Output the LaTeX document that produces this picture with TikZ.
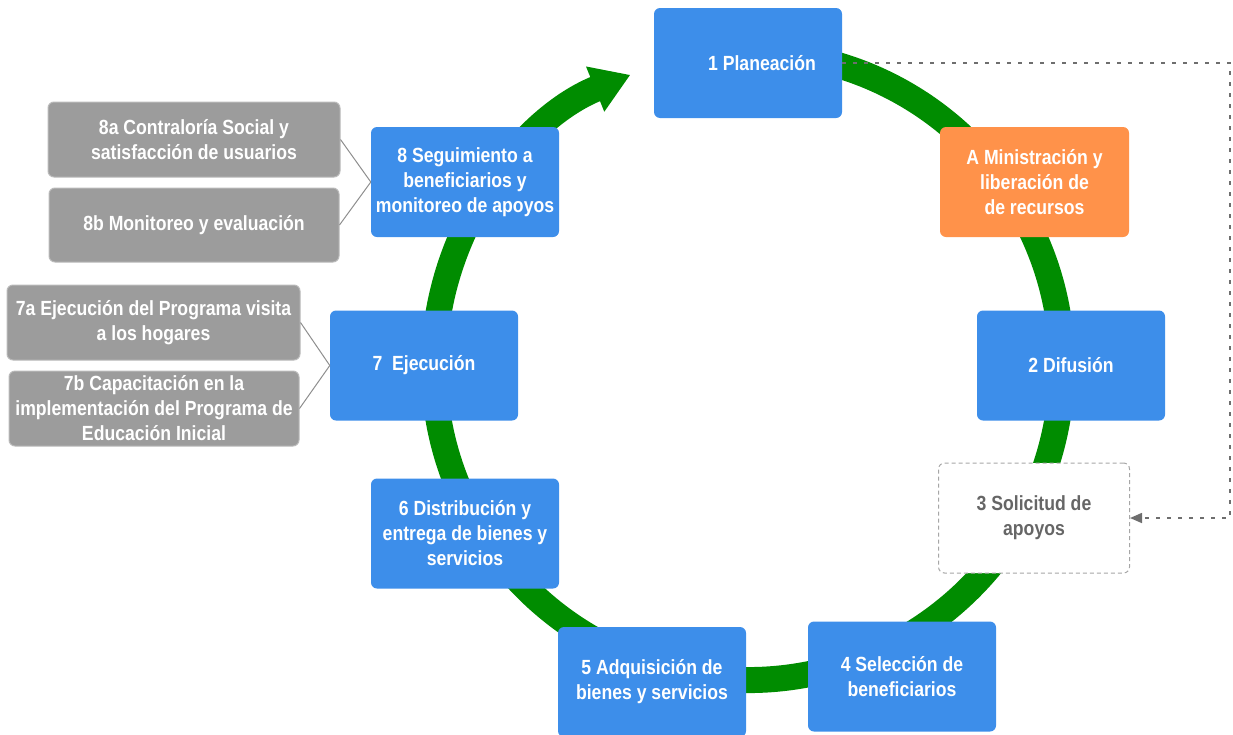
\documentclass[tikz,border=0pt]{standalone}
\usepackage{fontspec}
\setmainfont{Liberation Sans}[FakeStretch=0.86]
\usetikzlibrary{arrows.meta}
\definecolor{bluebox}{HTML}{3D8EEA}
\definecolor{orangebox}{HTML}{FF924A}
\definecolor{greenring}{HTML}{008C00}
\definecolor{graybox}{HTML}{9C9C9C}
\definecolor{grayline}{HTML}{8E8E8E}
\definecolor{dashgray}{HTML}{6E6E6E}
\definecolor{solgray}{HTML}{666666}
\tikzset{
  basebox/.style={rectangle, rounded corners=6pt, align=center, inner sep=2pt,
    font=\fontsize{20.5}{25}\selectfont\bfseries, text=white},
  bluestep/.style={basebox, fill=bluebox, minimum width=188pt, minimum height=110pt},
  orangestep/.style={basebox, fill=orangebox, minimum width=189pt, minimum height=110pt},
  dashstep/.style={basebox, fill=white, draw=graybox!90, dashed, dash pattern=on 4pt off 3pt,
    line width=1pt, text=solgray, minimum width=191pt, minimum height=110pt},
  subbox/.style={basebox, fill=graybox, draw=graybox!70, line width=1pt, minimum height=75pt},
  sublink/.style={draw=grayline, line width=1pt},
  ring/.style={draw=greenring, line width=26pt},
  dashlink/.style={draw=dashgray, line width=1.6pt, dash pattern=on 4pt off 7pt},
}
\begin{document}
\begin{tikzpicture}[x=1pt,y=1pt]
\useasboundingbox (0,0) rectangle (1233,-734);
% green cycle
\coordinate (ctr) at (748,-366);
\draw[ring, -{Triangle[width=46pt,length=38pt]}] (ctr) ++(80:314) arc[start angle=80, end angle=-248, radius=314];
% main steps
\node[bluestep] (n1) at (748,-63) {\hspace*{28pt}1 Planeación};
\node[orangestep] (nA) at (1034.5,-182) {A Ministración y\\liberación de\\de recursos};
\node[bluestep] (n2) at (1071,-365.5) {2 Difusión};
\node[dashstep] (n3) at (1034,-518) {3 Solicitud de\\apoyos};
\node[bluestep] (n4) at (902,-676.5) {4 Selección de\\beneficiarios};
\node[bluestep] (n5) at (652,-682) {5 Adquisición de\\bienes y servicios};
\node[bluestep] (n6) at (465,-533.5) {6 Distribución y\\entrega de bienes y\\servicios};
\node[bluestep] (n7) at (424,-365.5) {7\ \ Ejecución};
\node[bluestep] (n8) at (465,-182) {8 Seguimiento a\\beneficiarios y\\monitoreo de apoyos};
% sub steps
\node[subbox, minimum width=292pt] (g8a) at (194,-139.5) {8a Contraloría Social y\\satisfacción de usuarios};
\node[subbox, minimum width=290pt, minimum height=74pt] (g8b) at (194,-225) {8b Monitoreo y evaluación};
\node[subbox, minimum width=293pt] (g7a) at (153.5,-322.5) {7a Ejecución del Programa visita\\a los hogares};
\node[subbox, minimum width=290pt] (g7b) at (154,-408.5) {7b Capacitación en la\\implementación del Programa de\\Educación Inicial};
\draw[sublink] (g8a.east) -- (n8.west);
\draw[sublink] (g8b.east) -- (n8.west);
\draw[sublink] (g7a.east) -- (n7.west);
\draw[sublink] (g7b.east) -- (n7.west);
% dashed feedback
\coordinate (cr) at (1230,-63);
\draw[dashlink, -{Triangle[width=10pt,length=12pt,sep=0pt]}] (n1.east) -- (cr) |- (n3.east);
\end{tikzpicture}
\end{document}
